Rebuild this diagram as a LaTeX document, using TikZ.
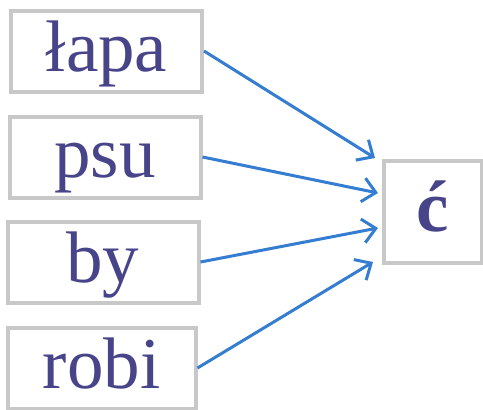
\documentclass[tikz,border=0pt]{standalone}
\usepackage{fontspec}
\setmainfont{Liberation Serif}
\usetikzlibrary{arrows.meta}
\definecolor{wordink}{RGB}{72,68,138}
\definecolor{framegrey}{RGB}{200,200,200}
\definecolor{linkblue}{RGB}{52,125,208}
\begin{document}
\begin{tikzpicture}[x=1pt, y=-1pt,
        word/.style={draw=framegrey, line width=4pt, text=wordink,
            minimum width=191pt, minimum height=81pt, inner sep=0pt,
            text height=50pt, text depth=10pt,
            font=\fontsize{73}{73}\selectfont},
        link/.style={draw=linkblue, line width=3pt,
            -{Straight Barb[length=13pt, width=24pt]}}]
            \useasboundingbox (0, 0) rectangle (483, 410);

            \node[word] (lapa) at (106.5, 51) {łapa};
            \node[word] (psu) at (105, 157) {psu};
            \node[word] (by) at (103, 262) {by};
            \node[word, minimum width=188pt] (robi) at (101.5, 368) {robi};

            \node[word, minimum width=98pt, minimum height=102pt,
                font=\bfseries\fontsize{73}{73}\selectfont] (c) at (432.5, 211.5) {ć};

            \coordinate (t1) at (375, 158);
            \coordinate (t2) at (378, 193);
            \coordinate (t3) at (378, 228);
            \coordinate (t4) at (373, 262);

            \draw[link] (lapa.east) -- (t1);
            \draw[link] (psu.east) -- (t2);
            \draw[link] (by.east) -- (t3);
            \draw[link] (robi.east) -- (t4);
        \end{tikzpicture}
\end{document}
